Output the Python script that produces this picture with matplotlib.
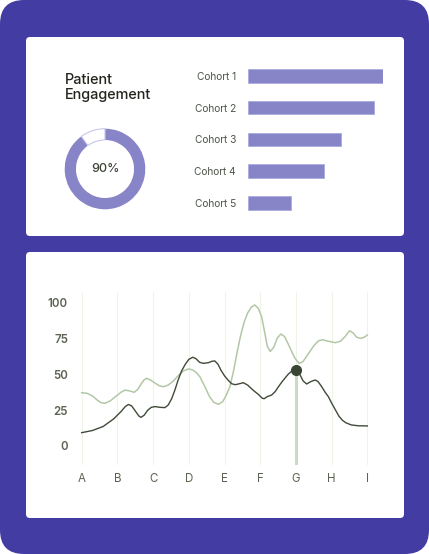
import matplotlib
matplotlib.use("Agg")
import matplotlib.pyplot as plt
from matplotlib.patches import FancyBboxPatch

plt.rcParams['font.family'] = ['Inter', 'DejaVu Sans']

# Data
engagement = 90
cohorts = ['Cohort 1', 'Cohort 2', 'Cohort 3', 'Cohort 4', 'Cohort 5']
cohort_values = [100, 93, 69, 56, 32]

categories = ['A', 'B', 'C', 'D', 'E', 'F', 'G', 'H', 'I']
y_ticks = [0, 25, 50, 75, 100]

# dark series (x in category units)
dark_x = [0, 0.3, 0.6, 0.9, 1.1, 1.22, 1.31, 1.4, 1.5, 1.6, 1.66, 1.75, 1.85, 1.95, 2.05,
          2.2, 2.33, 2.42, 2.52, 2.61, 2.7, 2.8, 2.9, 3.0, 3.11, 3.2, 3.3, 3.41, 3.55,
          3.65, 3.73, 3.82, 3.9, 4.0, 4.1, 4.2, 4.3, 4.42, 4.53, 4.65, 4.8, 4.95, 5.05,
          5.11, 5.2, 5.32, 5.42, 5.5, 5.6, 5.69, 5.78, 5.88, 6.0, 6.1, 6.2, 6.3, 6.42,
          6.54, 6.62, 6.72, 6.82, 6.91, 7.0, 7.1, 7.2, 7.3, 7.4, 7.55, 7.75, 8.0]
dark_y = [9.3, 10.8, 13.6, 19.0, 24.0, 27.5, 29.0, 28.0, 24.5, 21.0, 20.0, 21.5, 25.0, 27.0, 27.5,
          27.0, 26.8, 28.5, 33.0, 39.0, 46.0, 52.5, 57.0, 60.5, 62.0, 61.0, 58.5, 57.7, 58.2,
          59.2, 59.4, 57.0, 53.0, 49.0, 46.0, 43.5, 42.8, 43.5, 44.2, 42.5, 39.0, 36.0, 33.5,
          33.0, 34.5, 35.6, 38.0, 41.0, 44.5, 47.3, 50.0, 52.3, 53.0, 50.5, 45.5, 43.3, 45.0,
          46.1, 45.0, 41.5, 37.5, 34.4, 30.0, 25.5, 21.0, 18.0, 16.2, 14.7, 14.1, 14.0]

# light series
light_x = [0, 0.15, 0.3, 0.45, 0.55, 0.65, 0.8, 0.95, 1.1, 1.21, 1.32, 1.47, 1.57, 1.67, 1.75,
           1.82, 1.92, 2.05, 2.18, 2.29, 2.42, 2.55, 2.7, 2.85, 2.99, 3.1, 3.2, 3.31, 3.45,
           3.58, 3.7, 3.83, 3.95, 4.05, 4.15, 4.25, 4.35, 4.45, 4.55, 4.65, 4.75, 4.85, 4.95,
           5.04, 5.12, 5.2, 5.28, 5.38, 5.48, 5.58, 5.68, 5.78, 5.88, 5.98, 6.09, 6.2, 6.35,
           6.5, 6.63, 6.75, 6.9, 7.1, 7.25, 7.38, 7.5, 7.6, 7.7, 7.8, 7.9, 8.0]
light_y = [37.2, 36.8, 35.0, 31.8, 30.2, 29.8, 31.5, 34.5, 37.5, 39.0, 38.6, 37.5, 39.5, 43.5, 46.2,
           47.3, 46.2, 44.0, 42.0, 41.4, 42.5, 45.0, 49.0, 52.5, 53.8, 53.2, 51.5, 48.4, 41.5,
           34.5, 30.5, 29.1, 31.0, 35.5, 41.4, 52.0, 65.0, 77.0, 86.5, 93.0, 97.0, 98.5, 96.0,
           90.3, 80.0, 69.5, 66.0, 69.0, 75.5, 78.2, 76.5, 71.5, 66.0, 61.0, 57.7, 59.0, 64.5,
           70.0, 73.5, 74.2, 73.2, 72.2, 73.2, 76.5, 80.5, 79.0, 76.0, 75.2, 75.8, 77.5]

highlight = 'G'
highlight_value = 53

W, H = 429, 554
purple = '#433da3'
bar_color = '#8884c8'
light_line = '#b3c7a6'
dark_line = '#3f4b38'
tick_color = '#5b6452'

fig = plt.figure(figsize=(W / 100, H / 100), dpi=100)
fig.patch.set_facecolor('white')


def px_axes(x0, y0, x1, y1, **kw):
    return fig.add_axes([x0 / W, 1 - y1 / H, (x1 - x0) / W, (y1 - y0) / H], **kw)


# background panels
bg = px_axes(0, 0, W, H)
bg.set_xlim(0, W)
bg.set_ylim(H, 0)
bg.axis('off')
bg.add_patch(FancyBboxPatch((24, 24), W - 48, H - 48, boxstyle='round,pad=24',
                            fc=purple, ec='none'))
for (x0, y0, x1, y1) in [(26, 37, 404, 236), (26, 252, 404, 518)]:
    bg.add_patch(FancyBboxPatch((x0 + 4, y0 + 4), x1 - x0 - 8, y1 - y0 - 8,
                                boxstyle='round,pad=4', fc='white', ec='none'))

bg.text(65, 83.5, 'Patient', fontsize=10.4, color='#23251f', va='baseline', fontweight='medium')
bg.text(65, 99.5, 'Engagement', fontsize=10.4, color='#23251f', va='baseline', fontweight='medium')

# donut
ax_d = px_axes(64.7, 128.7, 145.3, 209.3)
wedges, _ = ax_d.pie([engagement, 100 - engagement], colors=[bar_color, 'white'],
                     startangle=90, counterclock=False, radius=1,
                     wedgeprops=dict(width=0.28, edgecolor='none'))
wedges[1].set_edgecolor('#c9c6ea')
wedges[1].set_linewidth(0.8)
ax_d.set_xlim(-1, 1)
ax_d.set_ylim(-1, 1)
ax_d.text(0, 0, f'{engagement}%', ha='center', va='center', fontsize=9, color='#3d4536',
          fontweight='medium')

# cohort bars
ax_b = px_axes(247.7, 59.9, 383.3, 218.9)
ax_b.barh(range(len(cohorts)), cohort_values, height=0.43, color=bar_color,
          edgecolor='#a9a6dc', linewidth=0.5)
ax_b.set_xlim(0, 100)
ax_b.set_ylim(len(cohorts) - 0.5, -0.5)
ax_b.set_yticks(range(len(cohorts)))
ax_b.set_yticklabels(cohorts, fontsize=7.3, color='#4d5548')
ax_b.tick_params(axis='y', length=0, pad=8.4)
ax_b.set_xticks([])
for s in ax_b.spines.values():
    s.set_visible(False)
ax_b.patch.set_alpha(0)

# line chart
ax = px_axes(78.1, 292.1, 370.9, 465.3)
ax.set_xlim(-0.1, 8.1)
ax.set_ylim(-13.5, 107.5)
ax.set_xticks(range(len(categories)))
ax.set_xticklabels(categories, fontsize=8.3, color=tick_color)
ax.set_yticks(y_ticks)
ax.set_yticklabels([str(v) for v in y_ticks], fontsize=8.3, color=tick_color,
                   fontweight='semibold')
ax.tick_params(axis='x', length=0, pad=5.5)
ax.tick_params(axis='y', length=0, pad=7.2)
ax.grid(axis='x', color='#eff4e9', linewidth=0.8)
ax.grid(axis='y', visible=False)
for s in ax.spines.values():
    s.set_visible(False)

hx = categories.index(highlight)
ax.vlines(hx, -13.5, highlight_value, color='#c9dcbf', linewidth=2.2, zorder=2)
ax.plot(light_x, light_y, color=light_line, linewidth=1.1, solid_joinstyle='round', zorder=3)
ax.plot(dark_x, dark_y, color=dark_line, linewidth=1.0, solid_joinstyle='round', zorder=4)
ax.plot(hx, highlight_value, 'o', markersize=7, color='#3a4634', zorder=5)

fig.savefig('out.png', dpi=100, facecolor=fig.get_facecolor())
